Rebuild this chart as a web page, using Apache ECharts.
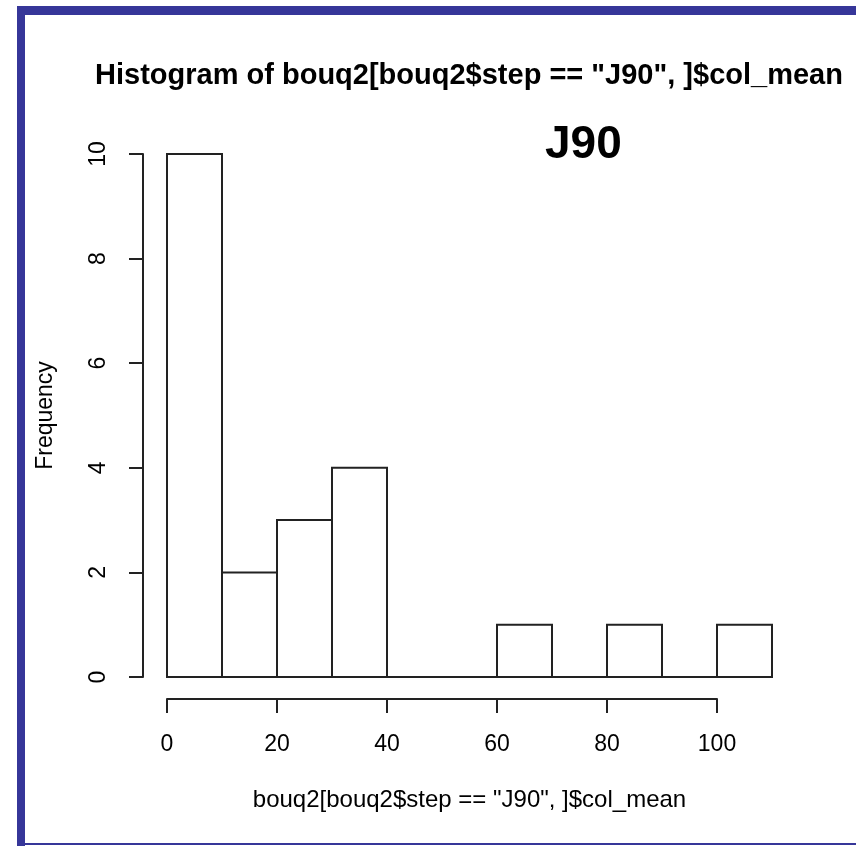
<!DOCTYPE html>
<html>
<head>
<meta charset="utf-8">
<script src="https://cdn.jsdelivr.net/npm/echarts@6/dist/echarts.min.js"></script>
<style>
html,body{margin:0;padding:0;background:#fff;}
#chart{width:856px;height:846px;}
</style>
</head>
<body>
<div id="chart"></div>
<script>
// Data
var binStarts = [0, 10, 20, 30, 40, 50, 60, 70, 80, 90, 100];
var binEnds   = [10, 20, 30, 40, 50, 60, 70, 80, 90, 100, 110];
var counts    = [10, 2, 3, 4, 0, 0, 1, 0, 1, 0, 1];
var xTicks = [0, 20, 40, 60, 80, 100];
var yTicks = [0, 2, 4, 6, 8, 10];
var titleText = 'Histogram of bouq2[bouq2$step == "J90", ]$col_mean';
var xName = 'bouq2[bouq2$step == "J90", ]$col_mean';
var yName = 'Frequency';
var labelText = 'J90';

var barData = binStarts.map(function (s, i) { return [s, binEnds[i], counts[i]]; });

var FONT = '"Liberation Sans", Arial, sans-serif';
var INK = '#222';
var BLUE = '#363699';

var chart = echarts.init(document.getElementById('chart'), null, {renderer: 'canvas'});

chart.setOption({
  animation: false,
  backgroundColor: '#fff',
  title: {
    text: titleText,
    left: 464, top: 56, textAlign: 'center',
    textStyle: {fontFamily: FONT, fontWeight: 'bold', fontSize: 29, color: '#000'}
  },
  graphic: [
    {type: 'rect', shape: {x: 17, y: 6, width: 839, height: 9}, style: {fill: BLUE}, z: 100},
    {type: 'rect', shape: {x: 17, y: 6, width: 8, height: 840}, style: {fill: BLUE}, z: 100},
    {type: 'rect', shape: {x: 17, y: 843, width: 839, height: 2}, style: {fill: BLUE}, z: 100},
    {type: 'text', left: 545, top: 122, style: {text: labelText, font: 'bold 46px ' + FONT, fill: '#000'}},
    {type: 'text', x: 469.5, y: 800, style: {text: xName, font: '24px ' + FONT, fill: '#000', textAlign: 'center', textVerticalAlign: 'middle'}}
  ],
  grid: [
    {left: 167, right: 84, top: 154, bottom: 169},   // bars
    {left: 167, right: 139, top: 154, bottom: 147},  // x axis (0-100)
    {left: 143, width: 10, top: 154, bottom: 169}    // y axis
  ],
  xAxis: [
    {gridIndex: 0, type: 'value', min: 0, max: 110, show: false},
    {gridIndex: 1, type: 'value', min: 0, max: 100, interval: 20, position: 'bottom',
      axisLine: {show: true, lineStyle: {color: INK, width: 2}},
      axisTick: {show: true, length: 14, lineStyle: {color: INK, width: 2}},
      splitLine: {show: false},
      axisLabel: {margin: 34, fontFamily: FONT, fontSize: 23, color: '#000',
        formatter: function (v) { return xTicks.indexOf(v) >= 0 ? String(v) : ''; }}
    },
    {gridIndex: 2, type: 'value', show: false}
  ],
  yAxis: [
    {gridIndex: 0, type: 'value', min: 0, max: 10, show: false},
    {gridIndex: 1, type: 'value', min: 0, max: 10, show: false},
    {gridIndex: 2, type: 'value', min: 0, max: 10, interval: 2, position: 'left',
      axisLine: {show: true, lineStyle: {color: INK, width: 2}},
      axisTick: {show: true, length: 14, lineStyle: {color: INK, width: 2}},
      splitLine: {show: false},
      axisLabel: {rotate: 90, margin: 33, fontFamily: FONT, fontSize: 23, color: '#000',
        formatter: function (v) { return yTicks.indexOf(v) >= 0 ? String(v) : ''; }},
      name: yName, nameLocation: 'middle', nameGap: 86, nameRotate: 90,
      nameTextStyle: {fontFamily: FONT, fontSize: 23, color: '#000'}
    }
  ],
  series: [{
    type: 'custom',
    xAxisIndex: 0, yAxisIndex: 0,
    data: barData,
    renderItem: function (params, api) {
      var p0 = api.coord([api.value(0), api.value(2)]);
      var p1 = api.coord([api.value(1), 0]);
      return {
        type: 'rect',
        shape: {x: p0[0], y: p0[1], width: p1[0] - p0[0], height: p1[1] - p0[1]},
        style: {fill: '#fff', stroke: INK, lineWidth: 2}
      };
    }
  }]
});
</script>
</body>
</html>
